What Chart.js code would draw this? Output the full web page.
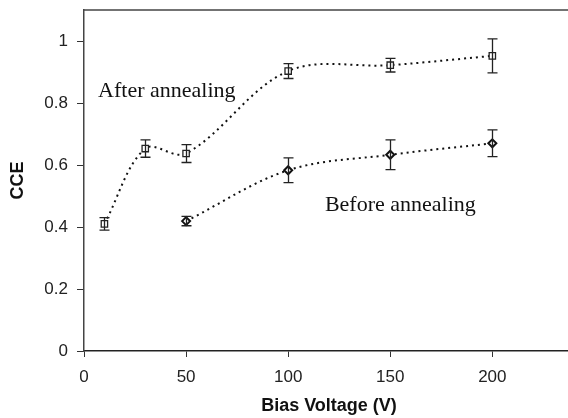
<!DOCTYPE html>
<html>
<head>
<meta charset="utf-8">
<script src="https://cdn.jsdelivr.net/npm/chart.js@4"></script>
<style>
    html, body { margin: 0; padding: 0; background: #fff; overflow: hidden; }
    #wrap { width: 568px; height: 418px; overflow: hidden; }
</style>
</head>
<body>
<div id="wrap"><canvas id="grafico" width="580" height="418" style="width:580px;height:418px"></canvas></div>
<script>
// dados
const voltAfter = [10, 30, 50, 100, 150, 200];
const cceAfter = [0.41, 0.653, 0.637, 0.903, 0.922, 0.952];
const errAfter = [0.02, 0.028, 0.029, 0.024, 0.022, 0.055];

const voltBefore = [50, 100, 150, 200];
const cceBefore = [0.419, 0.583, 0.633, 0.67];
const errBefore = [0.015, 0.04, 0.048, 0.043];

const xTicks = [0, 50, 100, 150, 200];
const yTicks = [0, 0.2, 0.4, 0.6, 0.8, 1];

const errors = [errAfter, errBefore];

// barras de erro + moldura de cima + rótulos das séries
const extras = {
    id: "extras",
    afterDatasetsDraw(chart) {
        const ctx = chart.ctx;
        const xs = chart.scales.x, ys = chart.scales.y;
        const area = chart.chartArea;
        ctx.save();
        ctx.strokeStyle = "#222";
        ctx.lineWidth = 1.3;
        chart.data.datasets.forEach(function (ds, i) {
            ds.data.forEach(function (p, j) {
                const e = errors[i][j];
                const px = Math.round(xs.getPixelForValue(p.x)) + 0.5;
                const top = ys.getPixelForValue(p.y + e);
                const bot = ys.getPixelForValue(p.y - e);
                ctx.beginPath();
                ctx.moveTo(px, top); ctx.lineTo(px, bot);
                ctx.moveTo(px - 5, top); ctx.lineTo(px + 5, top);
                ctx.moveTo(px - 5, bot); ctx.lineTo(px + 5, bot);
                ctx.stroke();
            });
        });
        // linha de cima
        ctx.strokeStyle = "#444";
        ctx.lineWidth = 1.5;
        ctx.beginPath();
        ctx.moveTo(area.left, area.top);
        ctx.lineTo(area.right + 10, area.top);
        ctx.stroke();

        ctx.fillStyle = "#111";
        ctx.font = "22px 'Liberation Serif', 'Times New Roman', serif";
        ctx.textBaseline = "alphabetic";
        ctx.fillText("After annealing", xs.getPixelForValue(6.9), ys.getPixelForValue(0.82));
        ctx.fillText("Before annealing", xs.getPixelForValue(118), ys.getPixelForValue(0.453));
        ctx.restore();
    },
};

const ctx = document.getElementById("grafico").getContext("2d");

new Chart(ctx, {
    type: "line",
    data: {
        datasets: [
            {
                label: "After annealing",
                data: voltAfter.map((v, i) => ({ x: v, y: cceAfter[i] })),
                borderColor: "#111",
                borderWidth: 2,
                borderDash: [2, 4],
                tension: 0.35,
                pointStyle: "rect",
                pointRadius: 4.5,
                pointBorderWidth: 1.3,
                pointBorderColor: "#222",
                pointBackgroundColor: "#fff",
            },
            {
                label: "Before annealing",
                data: voltBefore.map((v, i) => ({ x: v, y: cceBefore[i] })),
                borderColor: "#111",
                borderWidth: 2,
                borderDash: [2, 4],
                tension: 0.35,
                pointStyle: "rectRot",
                pointRadius: 4,
                pointBorderWidth: 2,
                pointBorderColor: "#111",
                pointBackgroundColor: "#fff",
            },
        ],
    },
    options: {
        responsive: false,
        animation: false,
        devicePixelRatio: 1,
        layout: { padding: { top: 10, right: 6, left: 0, bottom: 0 } },
        plugins: {
            legend: { display: false },
            tooltip: { enabled: false },
        },
        scales: {
            x: {
                type: "linear",
                min: 0,
                max: 240,
                afterBuildTicks: (s) => { s.ticks = xTicks.map((v) => ({ value: v })); },
                afterFit: (s) => { s.height = 67; s.paddingLeft = 0; s.paddingRight = 0; },
                grid: { drawOnChartArea: false, drawTicks: true, tickLength: 6, color: "#333" },
                border: { color: "#222", width: 1.5 },
                ticks: {
                    color: "#222",
                    padding: 10,
                    maxRotation: 0,
                    font: { family: "'Liberation Sans', Arial, sans-serif", size: 17 },
                },
                title: {
                    display: true,
                    text: "Bias Voltage (V)",
                    color: "#111",
                    padding: { top: 4, bottom: 1 },
                    font: { family: "'Liberation Sans', Arial, sans-serif", size: 18, weight: "bold" },
                },
            },
            y: {
                min: 0,
                max: 1.1,
                afterBuildTicks: (s) => { s.ticks = yTicks.map((v) => ({ value: v })); },
                afterFit: (s) => { s.width = 84; s.paddingTop = 0; s.paddingBottom = 0; },
                grid: { drawOnChartArea: false, drawTicks: true, tickLength: 7, color: "#333" },
                border: { color: "#444", width: 1.5 },
                ticks: {
                    color: "#222",
                    padding: 9,
                    callback: (v) => String(Number(v.toFixed(1))),
                    font: { family: "'Liberation Sans', Arial, sans-serif", size: 17 },
                },
                title: {
                    display: true,
                    text: "CCE",
                    color: "#111",
                    padding: { top: 7, bottom: 0 },
                    font: { family: "'Liberation Sans', Arial, sans-serif", size: 18, weight: "bold" },
                },
            },
        },
    },
    plugins: [extras],
});
</script>
</body>
</html>
